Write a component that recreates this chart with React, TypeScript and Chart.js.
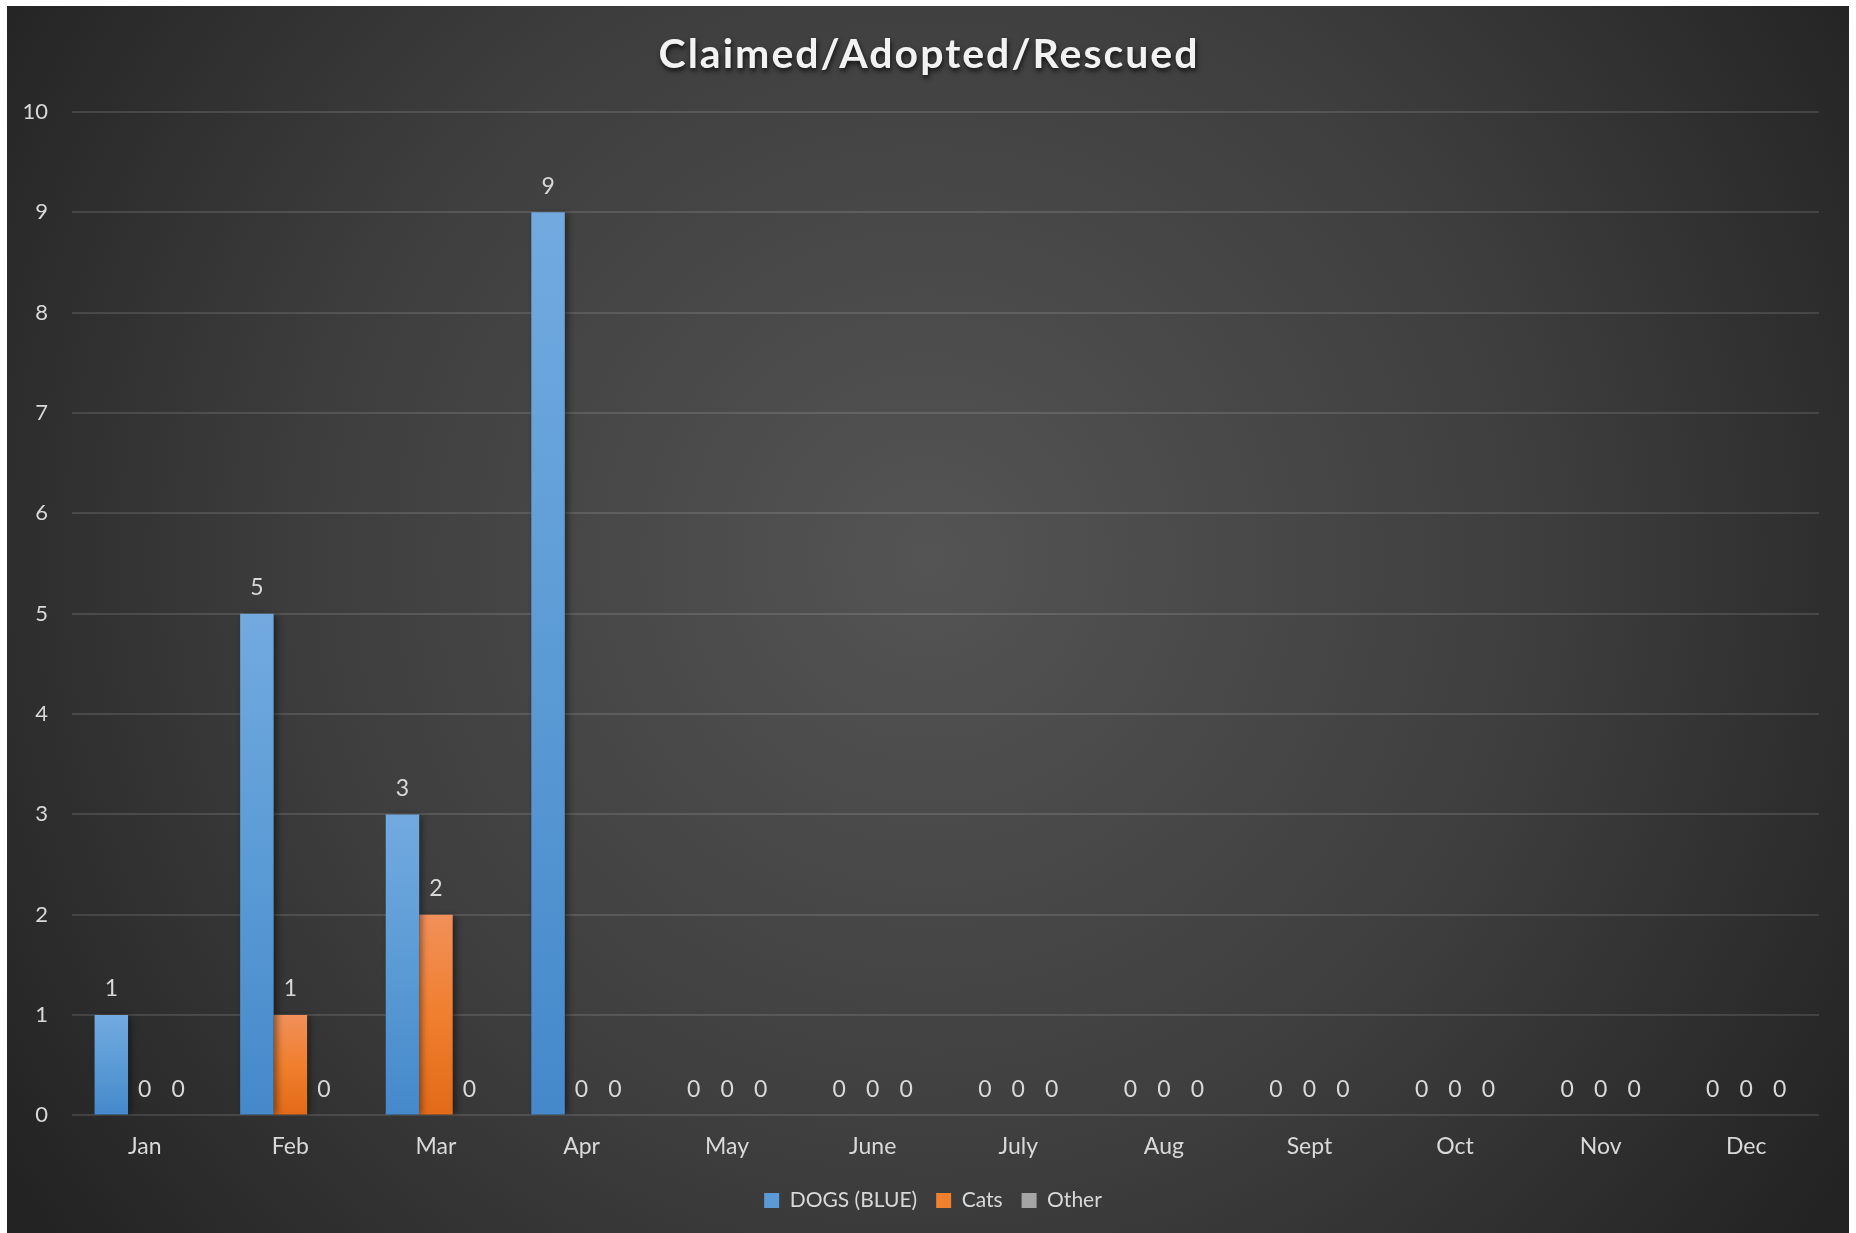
import React, { useEffect, useRef } from "react";
import { Chart, registerables } from "chart.js";

Chart.register(...registerables);

const TITLE = "Claimed/Adopted/Rescued";
const MONTHS = ["Jan", "Feb", "Mar", "Apr", "May", "June", "July", "Aug", "Sept", "Oct", "Nov", "Dec"];
const DOGS = [1, 5, 3, 9, 0, 0, 0, 0, 0, 0, 0, 0];
const CATS = [0, 1, 2, 0, 0, 0, 0, 0, 0, 0, 0, 0];
const OTHER = [0, 0, 0, 0, 0, 0, 0, 0, 0, 0, 0, 0];
const SERIES_NAMES = ["DOGS (BLUE)", "Cats", "Other"];
const Y_MIN = 0;
const Y_MAX = 10;
const Y_STEP = 1;

const FONT = "Lato, 'Open Sans', sans-serif";
const TEXT = "#d9d9d9";

const PALETTE = [
  { solid: "#5b9bd5", top: "#72aae0", bottom: "#4589cb" },
  { solid: "#f07f2e", top: "#f1905a", bottom: "#e26a18" },
  { solid: "#a5a5a5", top: "#b5b5b5", bottom: "#959595" },
];

function gradientFill(i: number) {
  return (ctx: any) => {
    const p = PALETTE[i];
    if (ctx.type !== "data") return p.solid;
    const chart = ctx.chart;
    const y = chart.scales && chart.scales.y;
    if (!y || !chart.chartArea) return p.solid;
    const top = y.getPixelForValue(ctx.raw);
    const base = y.getPixelForValue(0);
    if (!isFinite(top) || !isFinite(base) || Math.abs(base - top) < 1) return p.solid;
    const g = chart.ctx.createLinearGradient(0, top, 0, base);
    g.addColorStop(0, p.top);
    g.addColorStop(0.5, p.solid);
    g.addColorStop(1, p.bottom);
    return g;
  };
}

const backgroundPlugin = {
  id: "bgPlugin",
  beforeDraw(chart: any) {
    const { ctx, width, height } = chart;
    ctx.save();
    const cx = width * 0.5;
    const cy = height * 0.45;
    const r = Math.sqrt(width * width + height * height) / 2;
    const g = ctx.createRadialGradient(cx, cy, 0, cx, cy, r);
    g.addColorStop(0, "#545454");
    g.addColorStop(0.55, "#3e3e3e");
    g.addColorStop(1, "#232323");
    ctx.fillStyle = g;
    ctx.fillRect(0, 0, width, height);
    ctx.restore();
  },
};

const legendShiftPlugin = {
  id: "legendShift",
  afterLayout(chart: any) {
    const lg = chart.legend;
    if (lg) {
      lg.left += 20;
      lg.right += 20;
    }
  },
};

const titlePlugin = {
  id: "titlePlugin",
  afterDraw(chart: any) {
    const { ctx, width } = chart;
    ctx.save();
    ctx.font = `bold 41px ${FONT}`;
    try {
      (ctx as any).letterSpacing = "2px";
    } catch (e) {}
    ctx.textAlign = "center";
    ctx.textBaseline = "middle";
    ctx.shadowColor = "rgba(0,0,0,0.75)";
    ctx.shadowBlur = 5;
    ctx.shadowOffsetX = 1;
    ctx.shadowOffsetY = 3;
    ctx.fillStyle = "#f2f2f2";
    ctx.fillText(TITLE, width / 2 + 1, 49);
    ctx.restore();
  },
};

const shadowPlugin = {
  id: "barShadow",
  beforeDatasetsDraw(chart: any) {
    const ctx = chart.ctx;
    ctx.save();
    ctx.shadowColor = "rgba(0,0,0,0.45)";
    ctx.shadowBlur = 7;
    ctx.shadowOffsetX = 3;
    ctx.shadowOffsetY = 1;
  },
  afterDatasetsDraw(chart: any) {
    chart.ctx.restore();
  },
};

const labelPlugin = {
  id: "valueLabels",
  afterDatasetsDraw(chart: any) {
    const ctx = chart.ctx;
    ctx.save();
    ctx.font = `23px ${FONT}`;
    ctx.fillStyle = TEXT;
    ctx.textAlign = "center";
    ctx.textBaseline = "middle";
    chart.data.datasets.forEach((ds: any, di: number) => {
      const meta = chart.getDatasetMeta(di);
      meta.data.forEach((el: any, i: number) => {
        const v = ds.data[i];
        ctx.fillText(String(v), el.x, el.y - 26);
      });
    });
    ctx.restore();
  },
};

export default function App() {
  const ref = useRef<HTMLCanvasElement | null>(null);
  useEffect(() => {
    if (!ref.current) return;
    const chart = new Chart(ref.current, {
      type: "bar",
      data: {
        labels: MONTHS,
        datasets: [
          { label: SERIES_NAMES[0], data: DOGS, backgroundColor: gradientFill(0) as any, borderWidth: 0 },
          { label: SERIES_NAMES[1], data: CATS, backgroundColor: gradientFill(1) as any, borderWidth: 0 },
          { label: SERIES_NAMES[2], data: OTHER, backgroundColor: gradientFill(2) as any, borderWidth: 0 },
        ],
      },
      options: {
        animation: false,
        responsive: false,
        devicePixelRatio: 1,
        layout: { padding: { top: 106, left: 0, right: 30, bottom: 12 } },
        datasets: { bar: { categoryPercentage: 0.69, barPercentage: 1.0 } },
        scales: {
          x: {
            grid: { display: false, drawTicks: false },
            border: { display: false },
            ticks: { color: TEXT, font: { family: FONT, size: 23 }, padding: 17 },
            afterFit: (scale: any) => {
              scale.height = scale.height - 6;
            },
          },
          y: {
            min: Y_MIN,
            max: Y_MAX,
            ticks: { stepSize: Y_STEP, color: TEXT, font: { family: FONT, size: 22 }, padding: 24 },
            grid: { color: "rgba(255,255,255,0.12)", lineWidth: 2, drawTicks: false },
            border: { display: false },
            afterFit: (scale: any) => {
              scale.width = 65;
            },
          },
        },
        plugins: {
          title: { display: false },
          tooltip: { enabled: false },
          legend: {
            position: "bottom",
            labels: {
              color: TEXT,
              font: { family: FONT, size: 21 },
              boxWidth: 15,
              boxHeight: 15,
              padding: 19,
              generateLabels: (c: any) => {
                const items = Chart.defaults.plugins.legend.labels.generateLabels(c);
                items.forEach((it: any, i: number) => {
                  it.fillStyle = PALETTE[i].solid;
                  it.strokeStyle = PALETTE[i].solid;
                  it.lineWidth = 0;
                });
                return items;
              },
            },
          },
        },
      },
      plugins: [backgroundPlugin, legendShiftPlugin, shadowPlugin, labelPlugin, titlePlugin],
    });
    return () => chart.destroy();
  }, []);
  return (
    <div style={{ position: "absolute", left: 7, top: 6, width: 1842, height: 1227 }}>
      <canvas ref={ref} width={1842} height={1227} style={{ display: "block" }} />
    </div>
  );
}
